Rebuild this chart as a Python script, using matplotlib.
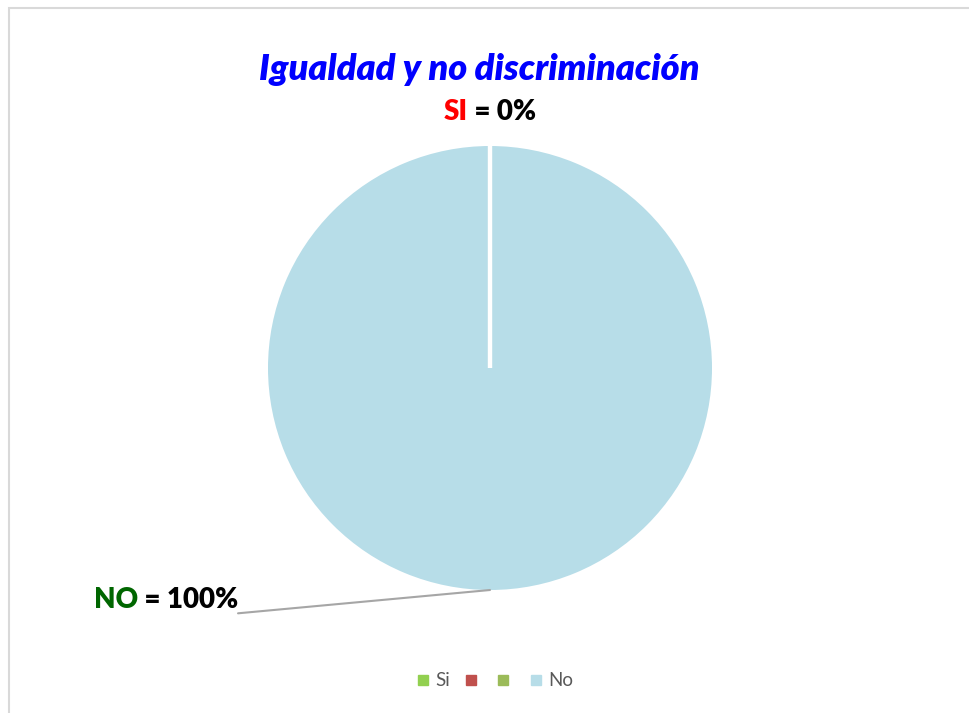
import matplotlib
matplotlib.use("Agg")
import matplotlib.pyplot as plt
from matplotlib.offsetbox import TextArea, HPacker, AnnotationBbox
from matplotlib.lines import Line2D
from matplotlib.patches import Rectangle
import numpy as np

# ---- data ----
categories = ["Si", "", "", "No"]
values = [0, 0, 0, 100]
colors = ["#92D050", "#C0504D", "#9BBB59", "#B7DDE8"]
title = "Igualdad y no discriminación"
label_si = ("SI", " = 0%")
label_no = ("NO", " = 100%")

W, H = 969, 713
fig = plt.figure(figsize=(W / 100, H / 100), dpi=100)
fig.patch.set_facecolor("white")

FONT = "Lato"

# chart border
fig.patches.append(Rectangle((9 / W, -0.05), 1.2, 1 - 8 / H + 0.05, transform=fig.transFigure,
                             fill=False, edgecolor="#D9D9D9", lw=1.5, clip_on=False))

cx, cy, r = 490, 368, 222
ax = fig.add_axes([(cx - r) / W, (H - cy - r) / H, 2 * r / W, 2 * r / H])

wedges, _ = ax.pie(values, colors=colors, startangle=90, counterclock=False, radius=1.0,
                   wedgeprops=dict(edgecolor="white", linewidth=3), frame=True)
ax.set_xlim(-1, 1)
ax.set_ylim(-1, 1)
ax.axis("off")
for w, v in zip(wedges, values):
    if v == 0:
        w.set_zorder(5)
    else:
        w.set_linewidth(0)

def colored_label(parts, colors_, xy, xybox, align, arrow=False):
    tas = [TextArea(p, textprops=dict(color=c, fontsize=20, fontweight="heavy", family=FONT))
           for p, c in zip(parts, colors_)]
    box = HPacker(children=tas, pad=0, sep=0, align="baseline")
    ap = None
    if arrow:
        ap = dict(arrowstyle="-", color="#A6A6A6", lw=1.5, relpos=(1.0, 0.0),
                  patchA=None, shrinkA=0, shrinkB=0)
    ab = AnnotationBbox(box, xy, xybox=xybox, xycoords="data", boxcoords="data",
                        box_alignment=align, frameon=False, arrowprops=ap, annotation_clip=False)
    ax.add_artist(ab)

# SI label (top)
ang_si = np.deg2rad(wedges[0].theta1)
colored_label(label_si, ["#FF0000", "black"], (np.cos(ang_si), np.sin(ang_si)), (0.0, 1.153), (0.5, 0.5))

# NO label with leader line
w_no = wedges[3]
mid = np.deg2rad((w_no.theta1 + w_no.theta2) / 2)
colored_label(label_no, ["#006600", "black"], (np.cos(mid), np.sin(mid)),
              (-1.135, -1.105), (1.0, 0.0), arrow=True)

fig.text(479 / W, 1 - 70 / H, title, ha="center", va="center", color="#0000FF",
         fontsize=26, fontweight="heavy", fontstyle="italic", family=FONT)

handles = [Line2D([], [], marker="s", linestyle="none", markersize=7, markerfacecolor=c,
                  markeredgecolor=c) for c in colors]
fig.legend(handles, categories, loc="center", bbox_to_anchor=(495 / W, 1 - 681 / H), ncol=4,
           frameon=False, prop=dict(family=FONT, size=13.5), labelcolor="#595959",
           handlelength=0.7, handletextpad=0.3, columnspacing=0.75)

fig.savefig("out.png", dpi=100)
